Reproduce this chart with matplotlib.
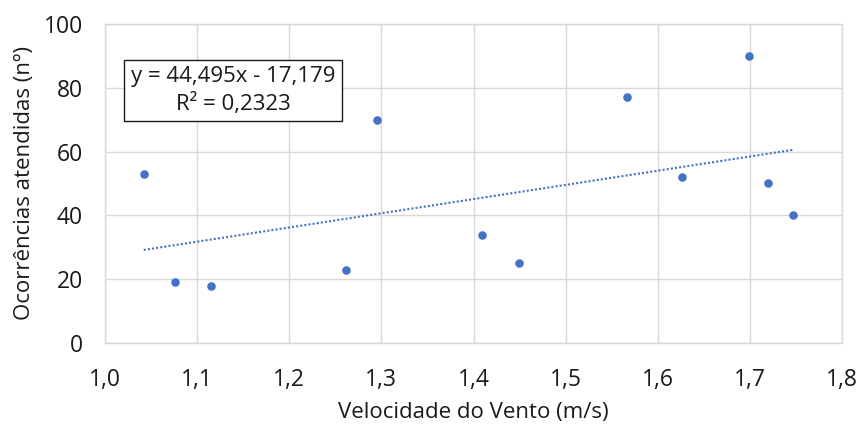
import numpy as np
import matplotlib
matplotlib.use("Agg")
import matplotlib.pyplot as plt

plt.rcParams['font.family'] = ['Open Sans', 'DejaVu Sans']

# velocidade do vento (m/s) x ocorrencias atendidas
velocidade = [1.042, 1.076, 1.115, 1.262, 1.295, 1.409, 1.449, 1.567, 1.626, 1.699, 1.720, 1.747]
ocorrencias = [53, 19, 18, 23, 70, 34, 25, 77, 52, 90, 50, 40]

# linha de tendencia linear (coeficientes da equacao)
coef_a = 44.495
coef_b = -17.179
r2 = 0.2323

xticks = [1.0, 1.1, 1.2, 1.3, 1.4, 1.5, 1.6, 1.7, 1.8]
yticks = [0, 20, 40, 60, 80, 100]

azul = '#4472C4'
cinza = '#D9D9D9'
texto = '#1a1a1a'

fig = plt.figure(figsize=(8.63, 4.26), dpi=100)
ax = fig.add_axes([0.1217, 0.1948, 0.8540, 0.7489])

ax.scatter(velocidade, ocorrencias, s=38, color=azul, zorder=3, linewidths=0)

xt = np.array([min(velocidade), max(velocidade)])
ax.plot(xt, coef_a * xt + coef_b, color=azul, linestyle=(0, (1, 1)), linewidth=1.5, zorder=2)

ax.set_xlim(1.0, 1.8)
ax.set_ylim(0, 100)
ax.set_xticks(xticks)
ax.set_yticks(yticks)
ax.set_xticklabels([f'{v:.1f}'.replace('.', ',') for v in xticks])
ax.set_yticklabels([str(v) for v in yticks])
ax.tick_params(length=0, labelsize=16.5, colors=texto)
ax.tick_params(axis='y', pad=16)
ax.tick_params(axis='x', pad=18)
ax.grid(True, color=cinza, linewidth=1)
ax.set_axisbelow(True)
for s in ax.spines.values():
    s.set_color(cinza)
    s.set_linewidth(1)

ax.set_xlabel('Velocidade do Vento (m/s)', fontsize=16, color=texto, labelpad=7)
ax.set_ylabel('Ocorrências atendidas (nº)', fontsize=16, color=texto, labelpad=6)

eq = 'y = {:.3f}x - {:.3f}\nR² = {:.4f}'.format(coef_a, -coef_b, r2).replace('.', ',')
ax.text(0.174, 0.7915, eq, transform=ax.transAxes, ha='center', va='center', fontsize=16,
        color=texto, linespacing=1.3,
        bbox=dict(boxstyle='square,pad=0.3', facecolor='white', edgecolor=texto, linewidth=1))

fig.savefig('out.png', dpi=100)
